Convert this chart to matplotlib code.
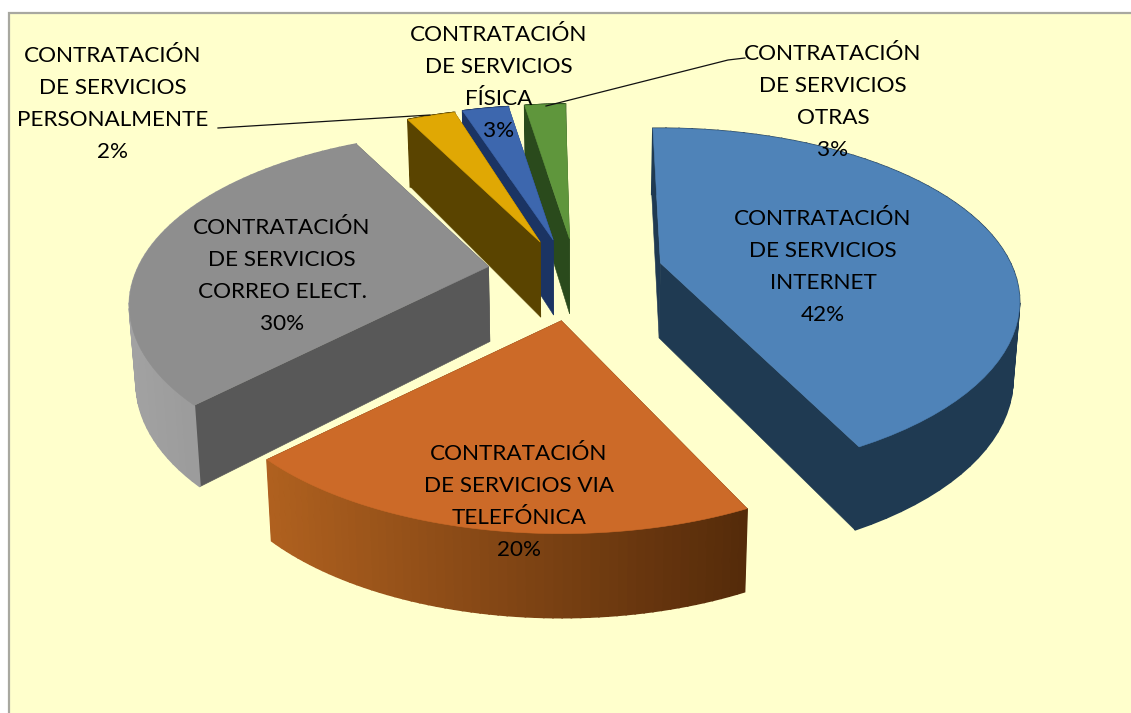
import numpy as np
import matplotlib
matplotlib.use('Agg')
import matplotlib.pyplot as plt
from matplotlib.patches import Polygon, Rectangle
from matplotlib.colors import to_rgb

# pie data, clockwise from the top
names = ['INTERNET', 'VIA TELEFÓNICA', 'CORREO ELECT.', 'PERSONALMENTE', 'FÍSICA', 'OTRAS']
values = [42, 20, 30, 2, 3, 3]

top_colors = ['#4F83B8', '#CC6A28', '#8E8E8E', '#E0A804', '#3D67AE', '#5F963C']
wall_colors = ['#1F3A52', '#5A2E0C', '#585858', '#5A4400', '#1B3463', '#2A4A1C']
rim_left = ['#1F3A52', '#B0611F', '#A2A2A2', '#5A4400', '#1B3463', '#2A4A1C']
rim_right = ['#1F3A52', '#552B0A', '#8C8C8C', '#5A4400', '#1B3463', '#2A4A1C']

labels = [
    'CONTRATACIÓN\nDE SERVICIOS\nINTERNET\n42%',
    'CONTRATACIÓN\nDE SERVICIOS VIA\nTELEFÓNICA\n20%',
    'CONTRATACIÓN\nDE SERVICIOS\nCORREO ELECT.\n30%',
    'CONTRATACIÓN\nDE SERVICIOS\nPERSONALMENTE\n2%',
    'CONTRATACIÓN\nDE SERVICIOS\nFÍSICA\n3%',
    'CONTRATACIÓN\nDE SERVICIOS\nOTRAS\n3%',
]
label_pos = [(823, 267), (519, 502), (282, 276), (113, 104), (499, 83), (833, 102)]

CX, CY = 575, 280
R, RC = 350, 165
PERSP = 0.225
EXPLODE = 0.25
START = 1.8
# small corrections for the skew of the 3d view
start_nudge = [-3.3, 2, 0, 0, 1.5, 0]
end_nudge = [0, 0, 0, 2.5, 0, -2.6]
shift_y = [-8, 0, -7, 0, 0, 0]


def project(x, y, ox, oy, shift, bottom=False):
    # the perspective comes from the point on the pie, the explode is a plain shift
    k = 1 / (1 + PERSP * y)
    px = R * (x * k + ox)
    py = -RC * (y * k + oy) + shift
    if bottom:
        py = py + 75 - 9 * y
        px = px * 0.985
    return CX + px, CY + py


def add_poly(ax, pts, color, zorder, lw=0.4):
    ax.add_patch(Polygon(pts, closed=True, facecolor=color, edgecolor=color,
                         linewidth=lw, zorder=zorder))


def draw_slice(ax, i, t0, t1, zorder):
    mid = np.radians((t0 + t1) / 2)
    ox = EXPLODE * np.sin(mid)
    oy = EXPLODE * np.cos(mid)
    ts = np.radians(np.linspace(t0 + start_nudge[i], t1 + end_nudge[i], 60))
    xs = np.sin(ts)
    ys = np.cos(ts)
    s = shift_y[i]

    apex = project(0, 0, ox, oy, s)
    apex_b = project(0, 0, ox, oy, s, True)
    first = project(xs[0], ys[0], ox, oy, s)
    first_b = project(xs[0], ys[0], ox, oy, s, True)
    last = project(xs[-1], ys[-1], ox, oy, s)
    last_b = project(xs[-1], ys[-1], ox, oy, s, True)

    # straight walls
    add_poly(ax, [apex, first, first_b, apex_b], wall_colors[i], zorder)
    add_poly(ax, [apex, last, last_b, apex_b], wall_colors[i], zorder)

    # outer wall, in strips so it can shade from left to right
    tops = [project(a, b, ox, oy, s) for a, b in zip(xs, ys)]
    bots = [project(a, b, ox, oy, s, True) for a, b in zip(xs, ys)]
    xmin = min(p[0] for p in tops)
    xmax = max(p[0] for p in tops)
    c0, c1 = np.array(to_rgb(rim_left[i])), np.array(to_rgb(rim_right[i]))
    for j in range(len(tops) - 1):
        f = (tops[j][0] - xmin) / max(xmax - xmin, 1)
        add_poly(ax, [tops[j], tops[j + 1], bots[j + 1], bots[j]],
                 c0 + (c1 - c0) * f, zorder + 0.1, lw=1.2)

    add_poly(ax, [apex] + tops, top_colors[i], zorder + 0.2)


fig = plt.figure(figsize=(11.31, 7.13), dpi=100)
ax = fig.add_axes([0, 0, 1, 1])
ax.set_xlim(0, 1131)
ax.set_ylim(713, 0)
ax.axis('off')

ax.add_patch(Rectangle((8.5, 12.5), 1130, 710, facecolor='#FFFFCC',
                       edgecolor='#A8A8A0', linewidth=1.6, zorder=0))

angles = np.cumsum([0] + values) / sum(values) * 360 + START
draw_order = [5, 4, 3, 2, 0, 1]
for n, i in enumerate(draw_order):
    draw_slice(ax, i, angles[i], angles[i + 1], zorder=1 + n)

# leader lines
ax.plot([218, 430], [128, 115], color='#111111', lw=0.9, zorder=20)
ax.plot([745, 728, 546], [58, 60, 106], color='#111111', lw=0.9, zorder=20)

for text, (x, y) in zip(labels, label_pos):
    ax.text(x, y, text, ha='center', va='center', fontsize=16.2, family='Lato',
            color='black', linespacing=1.73, zorder=30)

fig.savefig('out.png', dpi=100)
